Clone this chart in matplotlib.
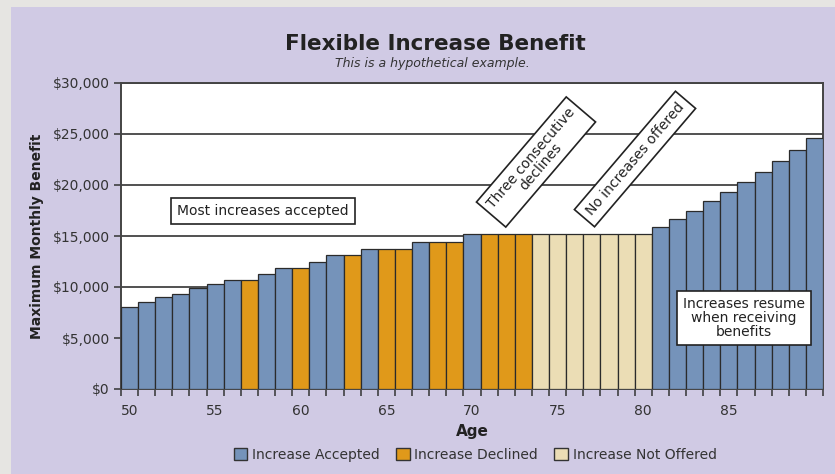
import matplotlib
matplotlib.use("Agg")
import matplotlib.pyplot as plt
from matplotlib.patches import Rectangle, Patch
from matplotlib.ticker import FuncFormatter, FixedLocator

plt.rcParams['font.family'] = ['DejaVu Sans']

# data
ages = list(range(50, 91))
benefit = [8000, 8500, 9000, 9300, 9900, 10300, 10700, 10700, 11300, 11900,
           11900, 12500, 13100, 13100, 13700, 13700, 13700, 14400, 14400, 14400,
           15200, 15200, 15200, 15200, 15200, 15200, 15200, 15200, 15200, 15200,
           15200, 15900, 16700, 17500, 18400, 19300, 20300, 21300, 22400, 23400,
           24600]
# A = accepted, D = declined, N = not offered
status = list("AAAAAAADAADAADADDADDADDDNNNNNNNAAAAAAAAAA")
labels = {"A": "Increase Accepted", "D": "Increase Declined", "N": "Increase Not Offered"}
colors = {"A": "#7593BA", "D": "#E0991A", "N": "#EBDDB5"}
xticks = [50, 55, 60, 65, 70, 75, 80, 85]
yticks = [0, 5000, 10000, 15000, 20000, 25000, 30000]

lav = "#D0CAE4"
fig = plt.figure(figsize=(8.35, 4.74), dpi=100, facecolor="#E6E5E2")
fig.patches.append(Rectangle((11 / 835, 0), 1, 1 - 7 / 474, transform=fig.transFigure,
                             facecolor=lav, edgecolor="none", zorder=-10))

ax = fig.add_axes([121 / 835, 1 - 389 / 474, 702 / 835, 306 / 474])
ax.set_facecolor("white")

ax.bar(ages, benefit, width=1.0, color=[colors[s] for s in status],
       edgecolor="#2b2b2b", linewidth=0.9, zorder=3)

ax.set_xlim(49.5, 90.5)
ax.set_ylim(0, 30000)
ax.set_yticks(yticks)
ax.yaxis.set_major_formatter(FuncFormatter(lambda v, p: "${:,.0f}".format(v)))
ax.set_xticks(xticks)
ax.xaxis.set_minor_locator(FixedLocator([a - 0.5 for a in ages] + [90.5]))
ax.tick_params(axis="x", which="major", length=0, pad=11, labelsize=10, labelcolor="#333333")
ax.tick_params(axis="x", which="minor", length=5, width=1.1, color="#333333", direction="out")
ax.tick_params(axis="y", length=5, width=1.1, color="#333333", labelsize=10,
               labelcolor="#333333", pad=3)
ax.grid(axis="y", color="#222222", linewidth=1.1, zorder=0)
for s in ax.spines.values():
    s.set_color("#444444")
    s.set_linewidth(1.4)

ax.set_xlabel("Age", fontsize=11, fontweight="bold", color="#222222", labelpad=4)
ax.set_ylabel("Maximum Monthly Benefit", fontsize=10, fontweight="bold", color="#222222", labelpad=6)

fig.text(435 / 835, 1 - 44 / 474, "Flexible Increase Benefit", ha="center", va="center",
         fontsize=15.5, fontweight="bold", color="#222222")
fig.text(432 / 835, 1 - 64 / 474, "This is a hypothetical example.", ha="center", va="center",
         fontsize=9, style="italic", color="#333333")

box = dict(boxstyle="square,pad=0.45", facecolor="white", edgecolor="#222222", linewidth=1.2)
fig.text(263 / 835, 1 - 211 / 474, "Most increases accepted", ha="center", va="center",
         fontsize=10, color="#222222", bbox=box)
fig.text(744 / 835, 1 - 318 / 474, "Increases resume\nwhen receiving\nbenefits", ha="center",
         va="center", fontsize=10, color="#222222", linespacing=1.0,
         bbox=dict(boxstyle="square,pad=0.45", facecolor="white", edgecolor="#222222", linewidth=1.2))
fig.text(536 / 835, 1 - 162 / 474, "Three consecutive\ndeclines", ha="center", va="center",
         fontsize=10, color="#222222", rotation=49.5, rotation_mode="anchor", linespacing=0.95,
         bbox=dict(boxstyle="square,pad=0.4", facecolor="white", edgecolor="#222222", linewidth=1.2))
fig.text(635 / 835, 1 - 159 / 474, "No increases offered", ha="center", va="center",
         fontsize=10, color="#222222", rotation=49.5, rotation_mode="anchor",
         bbox=dict(boxstyle="square,pad=0.45", facecolor="white", edgecolor="#222222", linewidth=1.2))

handles = [Patch(facecolor=colors[k], edgecolor="#333333", label=labels[k]) for k in "ADN"]
fig.legend(handles=handles, loc="center", bbox_to_anchor=(475 / 835, 1 - 455 / 474), ncol=3,
           frameon=False, fontsize=10, handlelength=1.0, handleheight=1.0, handletextpad=0.3,
           columnspacing=1.2, labelcolor="#333333")

fig.savefig("out.png", dpi=100, facecolor=fig.get_facecolor())
